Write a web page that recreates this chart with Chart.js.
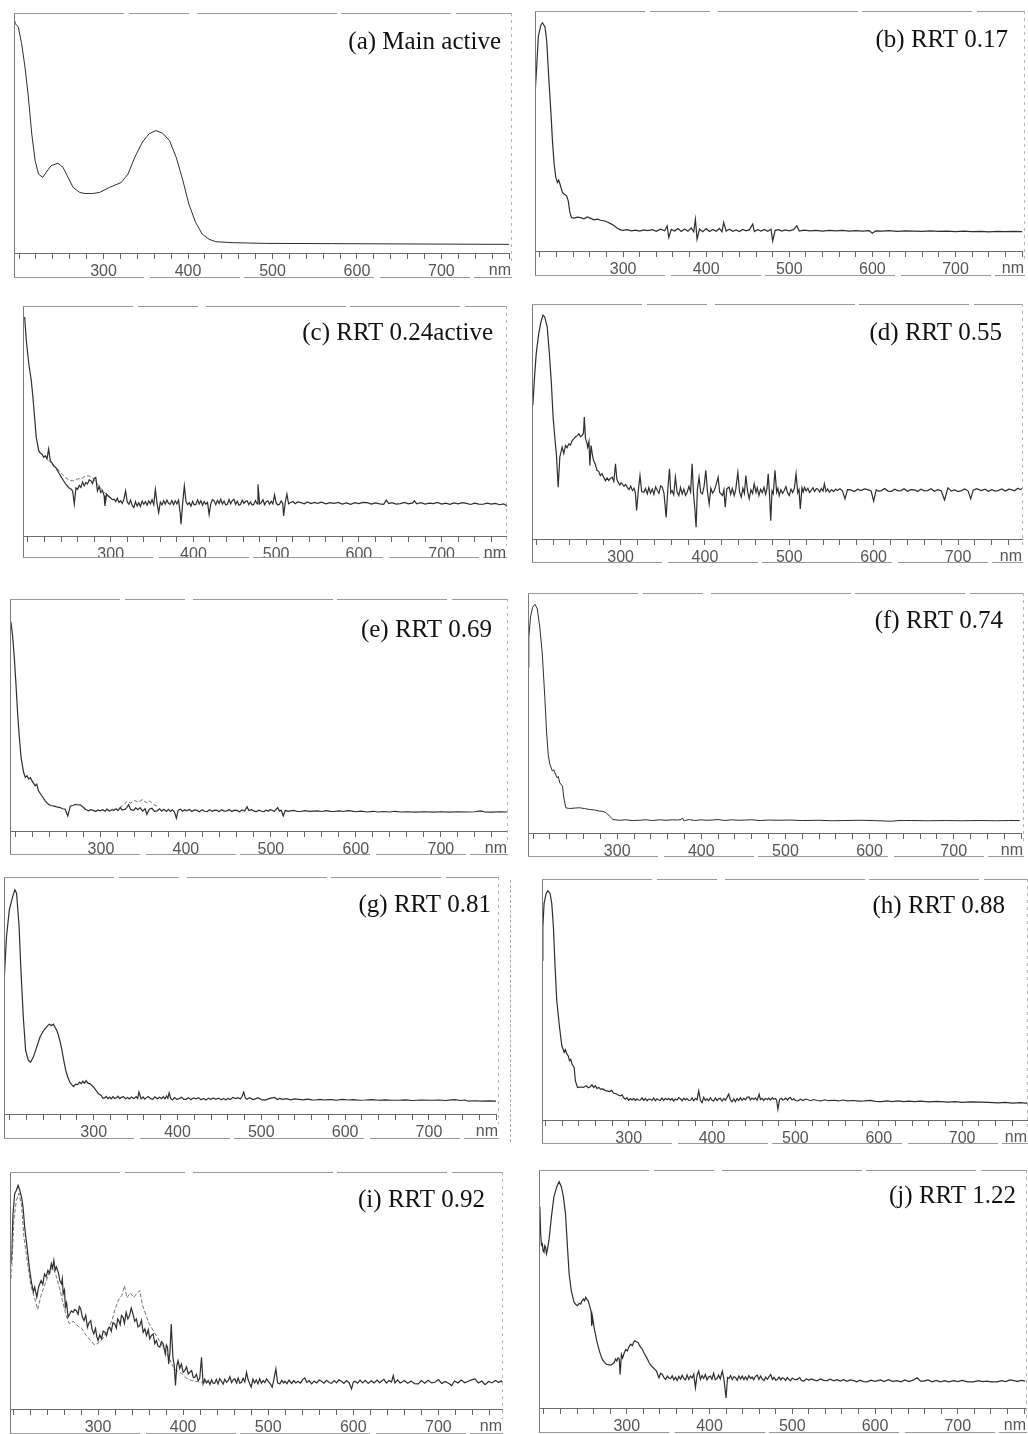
<!DOCTYPE html>
<html>
<head>
<meta charset="utf-8">
<title>UV spectra of main active and impurities</title>
<script src="https://cdn.jsdelivr.net/npm/chart.js@4.4.1/dist/chart.umd.min.js"></script>
<style>
  body { margin: 0; background: #fff; }
  #sheet { position: relative; width: 1028px; height: 1434px; overflow: hidden; }
  .panel { position: absolute; }
  .stray { position: absolute; border-left: 1px dashed #aaa; }
</style>
</head>
<body>
<div id="sheet"></div>
<script>
// wavelength ticks (nm) and which ones get a label
const tickNm = [200, 220, 240, 260, 280, 300, 320, 340, 360, 380, 400, 420, 440, 460, 480, 500,
  520, 540, 560, 580, 600, 620, 640, 660, 680, 700, 720, 740, 760, 780];
const labelNm = [300, 400, 500, 600, 700];

// spectra: [wavelength nm, relative absorbance 0-100]
const specA = [[194,96.5],[195,95.7],[199,94.3],[203,87.3],[207,77.5],[211,65.0],[215,49.7],[219,38.5],[223,32.9],[228,31.5],[232,33.6],[238,36.4],[246,37.4],[252,35.7],[258,31.5],[264,27.3],[272,25.2],[278,24.8],[287,24.8],[295,25.2],[307,27.3],[321,29.4],[329,32.9],[337,39.9],[346,46.2],[354,49.7],[362,51.0],[370,49.9],[378,46.9],[386,39.9],[394,30.1],[401,20.4],[409,12.7],[417,7.8],[425,5.7],[433,4.7],[453,4.3],[492,4.0],[571,3.9],[780,3.6]];

const specB = [[194,64.9],[196,76.7],[198,89.3],[201,94.1],[203,95.1],[206,93.4],[208,87.9],[211,69.7],[213,58.6],[215,46.0],[217,36.3],[219,30.7],[221,28.6],[222.5,29.6],[224,27.9],[227,24.4],[229,23.7],[232,23.0],[234,20.9],[236,16.0],[238,13.9],[241,13.7],[245,14.1],[249,13.9],[253,13.4],[257,14.2],[261,13.6],[265,13.0],[269,13.3],[273,12.8],[277,12.6],[281,12.1],[285,11.4],[289,10.6],[293,9.5],[297,8.8],[300,8.6],[305,8.9],[310,8.4],[315,8.7],[320,8.3],[325,8.8],[330,8.5],[335,8.9],[340,8.2],[345,9.1],[350,8.4],[353,10.4],[355,5.6],[358,9.0],[362,8.3],[366,9.4],[370,8.1],[374,9.2],[378,8.2],[382,9.6],[385,8.0],[387,13.2],[389,4.9],[392,9.1],[396,8.0],[400,9.3],[404,8.1],[408,9.0],[412,8.2],[416,9.4],[419,8.0],[421,11.9],[424,8.3],[428,9.1],[432,8.2],[436,8.8],[440,8.1],[444,9.0],[448,8.4],[452,8.9],[456,11.2],[458,8.1],[462,8.9],[466,8.3],[470,9.0],[474,8.2],[478,9.1],[480,4.2],[483,8.6],[487,8.9],[491,8.3],[495,8.8],[500,8.4],[505,8.9],[509,10.5],[512,8.3],[518,8.7],[525,8.4],[532,8.6],[540,8.3],[548,8.6],[556,8.4],[564,8.6],[572,8.3],[580,8.5],[588,8.3],[596,8.5],[600,7.4],[604,8.4],[612,8.3],[620,8.5],[630,8.2],[640,8.4],[650,8.3],[660,8.2],[670,8.4],[680,8.2],[690,8.3],[700,8.1],[710,8.3],[720,8.1],[730,8.2],[740,8.0],[750,8.2],[760,8.1],[770,8.2],[780,8.1]];

const specC = [[196,95.2],[198,85.0],[201,74.9],[204,67.6],[206,60.3],[208,51.6],[210,42.9],[213,37.1],[215,36.0],[217,35.6],[219,34.2],[221,34.9],[223,33.5],[225,37.8],[227,32.7],[229,31.8],[231,30.5],[234,29.6],[237,27.6],[240,25.8],[243,24.0],[246,22.4],[249,21.1],[252,20.4],[254,19.6],[256,13.8],[258,20.9],[260,20.3],[262,22.0],[264,21.1],[266,23.5],[268,21.8],[270,23.3],[272,22.6],[274,24.4],[276,24.0],[278,22.8],[280,25.0],[282,25.4],[284,19.6],[286,21.5],[288,18.9],[290,19.8],[292,17.6],[293,13.1],[295,18.2],[297,17.4],[300,16.5],[302,15.8],[304,16.0],[306,15.0],[308,16.4],[310,14.6],[312,15.3],[314,14.2],[316,16.1],[318,19.6],[320,14.8],[322,13.8],[324,15.6],[326,13.2],[328,12.4],[330,14.9],[332,13.0],[334,14.5],[336,12.8],[338,15.2],[340,13.8],[342,15.0],[344,13.4],[346,15.3],[348,14.0],[350,15.8],[352,13.6],[354,20.3],[356,14.2],[358,10.2],[360,14.8],[362,13.5],[364,15.3],[366,13.9],[368,15.6],[370,14.1],[372,13.8],[374,15.4],[376,13.6],[378,15.3],[380,14.0],[382,15.6],[384,10.0],[385,5.1],[387,14.4],[389,21.8],[391,15.0],[393,13.6],[395,14.5],[397,13.0],[399,15.1],[401,13.5],[403,13.8],[405,15.7],[407,13.9],[409,15.3],[411,13.4],[413,15.0],[415,13.8],[417,14.6],[419,9.4],[421,14.0],[423,15.8],[425,15.3],[427,13.6],[429,15.5],[431,14.1],[433,16.0],[435,13.9],[437,15.2],[439,13.5],[441,13.8],[443,15.9],[445,14.0],[447,15.4],[449,16.0],[451,13.7],[453,15.1],[455,13.4],[457,13.8],[459,15.6],[461,14.2],[463,15.0],[465,15.3],[467,13.6],[469,14.8],[471,13.5],[473,13.8],[475,15.4],[477,14.0],[478,22.5],[480,13.9],[482,14.5],[484,15.8],[486,13.6],[488,14.9],[490,15.3],[492,13.8],[494,15.1],[496,14.0],[498,17.9],[500,14.4],[502,13.5],[504,13.8],[506,15.2],[508,14.1],[509,8.7],[511,14.6],[513,18.2],[515,14.0],[517,14.5],[520,15.0],[523,14.0],[526,14.8],[530,14.5],[534,14.0],[538,14.8],[542,14.1],[546,14.6],[550,14.2],[555,14.7],[560,14.0],[565,14.5],[570,14.2],[575,14.6],[580,13.9],[585,14.4],[590,13.8],[595,14.5],[600,14.1],[605,14.6],[610,14.5],[615,13.9],[620,14.4],[625,14.0],[630,13.8],[633,15.6],[636,14.1],[640,14.5],[645,13.9],[650,14.1],[655,14.6],[660,14.0],[665,14.4],[667,15.3],[670,14.0],[675,14.5],[680,13.9],[685,14.3],[690,14.1],[695,14.6],[700,13.9],[705,14.3],[710,13.8],[715,14.4],[720,14.0],[725,14.5],[730,14.2],[735,13.7],[740,14.3],[745,13.9],[750,13.8],[755,14.3],[760,13.9],[765,14.2],[770,13.6],[775,14.0],[779,13.1]];
const specC2 = [[225,33.0],[230,31.0],[235,29.5],[240,27.4],[245,25.5],[250,24.2],[255,24.0],[260,24.8],[265,25.0],[270,26.2],[275,26.0],[280,24.5],[285,22.0],[290,20.0],[295,18.0],[300,16.6]];

const specD = [[196,56.9],[198,69.0],[200,78.9],[203,87.5],[205.7,92.5],[208,95.3],[210,94.6],[213,90.3],[215.6,78.9],[218,66.1],[220,51.9],[222,43.4],[224,35.6],[226,22.0],[228,34.9],[230.7,39.1],[232.7,36.3],[234.7,39.8],[236.5,38.8],[238.6,40.5],[240.5,40.0],[242.6,41.9],[244.5,42.6],[246.5,43.4],[248.5,44.0],[250.5,44.8],[252.5,43.5],[254.5,44.1],[256,45.0],[257,51.9],[258.4,42.7],[260,41.0],[261,39.1],[262.5,41.5],[263.6,31.3],[265,39.8],[266.5,36.0],[268,33.4],[270,31.8],[272,29.2],[274,28.8],[276,27.0],[278,27.8],[280,26.3],[282,24.8],[284,26.0],[286,24.9],[288,25.8],[290,26.3],[292,24.5],[294,32.0],[295.5,25.6],[297,24.2],[299,23.0],[300.5,24.0],[302,23.5],[304,22.4],[306,23.2],[308,22.0],[310,21.0],[312,22.5],[314,20.6],[316,21.6],[317.5,19.8],[319,12.1],[321,20.5],[323,27.0],[325,20.2],[327.7,19.9],[329.5,21.5],[331.7,19.2],[333.5,21.9],[335.5,19.5],[337.6,21.3],[339.5,19.0],[341.5,22.2],[343.6,20.6],[345.5,19.4],[347.5,22.6],[349.5,22.0],[351.5,19.3],[354,9.2],[356,21.2],[358,29.9],[359.5,19.6],[361,20.6],[363,18.8],[365,26.3],[367,20.0],[369,18.5],[371,22.0],[373,19.2],[375,21.3],[377,18.6],[379,19.9],[381,22.4],[383,20.0],[384.8,32.0],[386.5,19.0],[388,13.0],[389.5,5.0],[391,20.8],[393,26.3],[395,19.8],[397,19.2],[399,22.5],[401,29.2],[403,20.2],[405,14.9],[407,21.6],[409,19.5],[411,20.6],[413,22.8],[415.6,26.3],[417.5,19.8],[420.8,18.5],[422.5,21.0],[424,13.5],[426,21.4],[428.7,22.0],[430.5,19.0],[432.5,21.5],[434.7,18.5],[436.5,21.0],[439,28.4],[441,20.0],[443,17.8],[445,21.6],[446.8,19.4],[448.5,27.0],[450.5,20.4],[452.5,17.1],[454.5,21.0],[456.5,19.4],[458.4,23.5],[460.5,19.8],[462,21.8],[464,18.5],[466,21.2],[468,19.7],[470,22.0],[472,19.0],[473.5,21.4],[475,27.7],[476.5,19.0],[478,7.8],[479.5,20.5],[481,19.3],[483,29.2],[485,19.9],[486.5,21.5],[488,18.5],[490,21.0],[492,19.4],[494,20.6],[496,22.3],[498,19.6],[500,18.5],[502,21.2],[504,19.8],[506,21.6],[508,27.7],[510,19.7],[511.5,21.0],[513,12.8],[515,21.8],[516.5,20.0],[518,22.0],[520,20.4],[522,21.6],[524,19.8],[525.7,20.6],[528,21.8],[530,20.2],[532,21.4],[533.7,21.3],[536,20.0],[538,21.5],[540,20.4],[541.6,23.5],[543.5,20.2],[545.5,21.3],[547.5,19.9],[550,21.0],[552.5,20.2],[555,21.2],[557,20.6],[560,21.4],[563,20.5],[566,17.1],[569,21.0],[573,20.9],[577,20.2],[581,21.2],[585,20.6],[589,21.3],[593,21.0],[597,20.4],[600,16.1],[603,21.0],[606,20.3],[609,20.6],[613,21.5],[617,20.4],[621,20.3],[625,21.2],[629,20.5],[632.7,20.6],[636,21.4],[640,20.3],[644,21.0],[648.5,20.9],[652,20.2],[656,21.2],[660,20.5],[664,20.6],[668,21.4],[672,20.3],[676,21.0],[680,20.5],[684,16.6],[688,21.8],[692,20.4],[696,20.9],[700,20.2],[704,20.6],[708,21.3],[712,20.4],[715,17.1],[718,20.8],[722,21.4],[727.7,20.6],[732,21.2],[736,20.3],[740,21.0],[744,20.4],[747.5,20.6],[752,21.3],[756,20.4],[760,21.2],[763,21.0],[767,20.5],[771,21.6],[774,21.0],[777,21.8]];

const specE = [[194,90.2],[196,84.4],[198,75.0],[200,63.5],[202,50.5],[204,40.4],[206,31.7],[209,25.3],[211,23.1],[213,23.8],[215,22.4],[217,23.0],[219,21.6],[222.6,19.5],[224.5,20.2],[226.5,17.3],[230.5,15.2],[234.4,13.0],[238.3,11.5],[241,11.0],[244,10.8],[248,10.4],[252,10.1],[255,9.6],[258,9.4],[261,6.5],[264,10.8],[267,11.0],[270,11.5],[273,11.2],[275.6,11.3],[279.6,10.1],[282,9.3],[285.5,8.7],[288,9.2],[291,8.9],[294,8.4],[296.5,9.1],[299,8.7],[302,9.2],[305,8.5],[307,9.4],[310,8.6],[313,9.2],[315,8.9],[318,9.6],[320,8.8],[322.8,10.1],[325,9.0],[328.7,9.4],[330.5,10.2],[332.6,11.3],[335,9.2],[338.5,8.9],[341,10.0],[343.5,9.2],[346,10.1],[349,8.6],[352,9.6],[354,7.2],[357,9.4],[360,9.8],[363,8.5],[366,8.7],[369,9.6],[371.5,8.6],[374,9.4],[377,8.4],[379.5,9.3],[381.7,8.4],[384,9.1],[386.5,8.2],[388.8,5.5],[391,9.0],[393.5,9.4],[396,8.5],[398.5,9.2],[401,8.7],[404,9.3],[407,8.4],[410,9.1],[413,8.9],[416,8.3],[419,9.2],[422,8.5],[425,8.4],[428,9.2],[431,8.5],[434,9.0],[436.7,8.9],[439,8.3],[442,9.2],[445,8.6],[448.5,8.7],[451,9.3],[454,8.4],[457,9.0],[460,8.9],[463,8.3],[466,9.1],[469,8.6],[472,10.4],[474,8.8],[477,9.2],[480,8.7],[483,8.4],[486,9.0],[489,8.5],[491.7,8.4],[494.5,9.0],[497,8.5],[499,9.2],[501.6,8.9],[504,8.4],[506,9.3],[508,10.1],[510,8.6],[512,9.0],[514.5,6.5],[517,8.9],[520,8.5],[523,8.7],[527,8.9],[531,8.4],[535,8.4],[540,8.8],[545,8.5],[550,8.6],[554.6,8.7],[560,8.4],[565,8.8],[570,8.5],[574,8.4],[580,8.7],[586,8.4],[590,8.8],[594,8.7],[600,8.3],[606,8.6],[613.5,8.2],[620,8.5],[626,8.2],[633,8.4],[640,8.2],[646,8.5],[653,8.2],[660,8.3],[670,8.1],[680,8.3],[692,8.1],[700,8.3],[710,8.1],[720,8.3],[731,8.2],[740,8.3],[747,8.7],[752,8.2],[760,8.1],[770,8.3],[778.6,8.2]];
const specE2 = [[322,10.0],[327,11.5],[331,12.8],[335,12.0],[339,13.2],[344,12.4],[349,13.6],[353,12.2],[357,13.0],[362,11.4],[367,10.5]];

const specF = [[193.6,69.0],[195,81.6],[197,90.0],[199.5,94.1],[202.3,95.3],[205,93.4],[208,85.8],[211,74.6],[214,56.5],[216,42.5],[218,32.8],[220,28.6],[223,25.8],[224.5,26.4],[226,25.1],[228.7,23.0],[230,23.6],[231.8,20.9],[235,19.5],[236.6,14.6],[239,10.5],[243.6,10.2],[250,10.4],[255.5,10.5],[261,10.2],[267,9.8],[273,9.6],[279,9.1],[283,9.0],[287,8.4],[291,7.0],[295,5.6],[302.8,5.3],[310,5.5],[318,5.2],[326,5.3],[334,5.5],[342,5.2],[350,5.5],[358,5.3],[366,5.5],[372,5.4],[376,5.6],[377.6,6.3],[379.5,5.0],[381.6,5.3],[386,5.6],[392,5.2],[400,5.5],[406,5.3],[413,5.4],[420,5.6],[428,5.2],[436,5.5],[444,5.3],[452.5,5.4],[460,5.5],[470,5.2],[480,5.4],[492,5.3],[505,5.4],[520,5.2],[540,5.3],[555,5.1],[570.7,5.2],[590,5.3],[610,5.1],[626,4.9],[635,5.2],[649.6,5.2],[670,5.1],[690,5.2],[710,5.1],[730,5.2],[750,5.1],[765,5.2],[778.4,5.2]];

const specG = [[193,55.1],[196,74.9],[199.4,86.2],[203.4,91.8],[206,94.6],[208,93.2],[211,79.1],[213,62.1],[216,41.0],[218.8,26.8],[222,22.6],[224.8,21.9],[228,24.0],[232,28.2],[236,32.5],[239,34.5],[242,36.0],[245,37.2],[247,37.9],[249.5,37.3],[252,37.9],[254,36.5],[256,35.3],[258,33.2],[260,30.4],[261.8,27.6],[263.6,24.0],[265,21.4],[266.7,18.4],[269,15.6],[271.5,13.4],[274,12.3],[276,11.6],[278.5,12.6],[281,12.4],[283,13.4],[285,12.8],[287,13.8],[289,13.0],[291,14.1],[293,13.0],[295.5,12.7],[298,12.0],[300.5,11.0],[303,9.9],[306,8.4],[309,7.8],[311,6.6],[313,6.8],[315,7.4],[317,6.5],[319,7.1],[321,6.4],[323,7.3],[325,6.6],[327,6.8],[329,7.5],[331,6.5],[333,7.0],[335.6,7.3],[338,6.4],[340.5,7.0],[342.8,6.4],[345,7.2],[348,6.5],[350.7,7.3],[352.5,6.6],[354,9.2],[356.6,6.4],[359,7.2],[360.8,6.3],[362.6,6.8],[365,7.4],[368,6.5],[370.5,6.2],[373,7.2],[376,6.4],[378.4,7.1],[381,6.5],[383,7.3],[385,6.4],[387,7.6],[388.5,6.6],[390,8.9],[392,6.5],[394,5.9],[396.5,6.9],[399,6.2],[402,6.5],[405,7.1],[407.5,6.2],[410,6.2],[413,6.9],[416,6.0],[419,6.8],[422,6.4],[425,6.9],[428,6.0],[431,6.6],[434,5.9],[437,6.7],[440,6.1],[442.5,6.8],[445.7,6.2],[449,6.7],[452,6.0],[455,6.6],[457.6,5.9],[460,6.6],[463,6.1],[466,7.0],[469.5,6.5],[472,6.9],[475,6.3],[477,7.4],[479,9.2],[481,6.7],[483,6.2],[486,6.9],[490,6.1],[493,6.4],[496,6.9],[500,6.1],[505,5.9],[509,6.5],[513,6.8],[516,7.0],[519,6.1],[522,6.6],[525,6.2],[530,6.5],[535,6.0],[540,6.4],[544.8,6.2],[550,6.0],[555,6.3],[560,6.0],[564.6,5.9],[570,6.2],[575,5.9],[580,6.1],[584,6.1],[590,5.8],[596,6.2],[604,5.9],[610,6.1],[617,5.8],[624,5.9],[632,6.1],[640,5.8],[648,6.0],[655,5.8],[663.6,5.8],[672,6.0],[680,5.7],[690,5.9],[703,5.8],[712,5.9],[720,5.7],[727,6.0],[731,6.1],[737,5.7],[743,5.9],[747,5.4],[755,5.6],[763,5.4],[772,5.5],[780,5.4]];

const specH = [[195.7,66.3],[197,80.1],[198.5,89.9],[201,94.0],[203,95.1],[205.7,94.0],[207.7,89.9],[209.7,80.1],[211.7,63.5],[213.7,49.6],[217,38.5],[219.8,30.8],[222.6,28.1],[224,29.2],[225.8,27.4],[227.5,26.6],[229,24.6],[230.5,25.1],[232,23.2],[234.6,21.8],[236,16.3],[238.6,13.5],[242,13.7],[245.8,13.5],[249,14.2],[251.5,13.4],[253.9,13.8],[256,14.6],[258,13.5],[260,14.2],[262,13.0],[264,13.6],[266,12.8],[269,12.9],[272,12.2],[274,12.1],[277,11.8],[279.5,12.3],[282,11.1],[285,10.9],[288,10.3],[290,10.0],[292,10.4],[294,9.2],[296,8.6],[298,9.3],[300,8.2],[302,8.9],[304,8.3],[306,9.0],[308,8.1],[310,8.8],[312,8.2],[314,8.3],[316,9.1],[318,8.2],[320,8.9],[322,8.0],[324,8.7],[326,8.6],[328,8.1],[330,9.2],[332,8.0],[334,8.8],[336,8.3],[338,8.2],[340,9.1],[342,8.1],[344,9.0],[346,8.4],[348,9.0],[350,8.2],[352,8.9],[354,7.9],[356,8.7],[358,8.3],[360,9.3],[362,8.8],[364,8.0],[366,9.0],[368,8.3],[370,8.9],[372,8.1],[374,8.2],[376,9.2],[378,8.0],[380,9.0],[382,8.4],[384,12.1],[386,8.2],[388,7.2],[390,9.4],[392,8.1],[394,8.8],[396,8.0],[398,9.3],[400,8.2],[402,7.9],[404,9.2],[406,8.1],[408,8.8],[410,9.0],[412,7.8],[414,8.9],[416,8.2],[418,9.4],[420,10.7],[422,8.3],[424,7.6],[426,8.8],[428,7.6],[430,8.9],[432,8.1],[434,9.3],[436,8.2],[438,9.0],[440,8.4],[442,9.4],[444.4,9.6],[446,8.3],[448,9.1],[450,8.5],[452,9.2],[454,8.2],[456.5,10.7],[458,8.4],[460,9.0],[462,8.1],[464,8.9],[466.5,8.5],[468,9.1],[470,8.3],[472.5,9.3],[474,8.6],[476,8.9],[477.5,8.2],[479,4.4],[481,8.5],[483,9.0],[485,8.3],[486.6,8.5],[488.5,9.1],[490.5,8.2],[492,9.0],[494,9.3],[496,8.3],[498,8.8],[500,8.1],[503,7.9],[506,8.6],[509,8.1],[512,8.7],[514.6,8.5],[518,8.0],[522,8.5],[526,8.1],[530.7,7.9],[535,8.4],[540,8.0],[546.7,8.2],[552,7.9],[557,8.3],[562.8,7.9],[570,8.1],[576,7.8],[582.8,7.9],[590,8.1],[596,7.7],[603,7.6],[610,7.9],[616,7.6],[623,7.9],[630,7.6],[636,7.8],[643,7.6],[650,7.8],[660,7.5],[670,7.7],[683,7.4],[692,7.6],[700,7.3],[710,7.5],[723,7.4],[732,7.3],[743,7.1],[752,7.3],[760,7.0],[770,7.2],[778.6,6.9]];

const specI = [[198,61.3],[200,82.4],[202,90.8],[204,92.3],[206,94.4],[208,92.3],[210,89.4],[211.8,85.2],[213.7,76.8],[217,66.9],[219.6,58.5],[222,52.8],[224,49.5],[225.5,51.4],[228,47.2],[230,51.4],[233,54.2],[235,52.6],[237,57.0],[239,55.8],[241,58.5],[243,57.2],[245,61.3],[246.5,59.5],[248,62.7],[249.5,58.6],[251,59.9],[253.7,57.0],[255,54.2],[257,52.8],[258,55.0],[259,48.6],[260.5,50.2],[261.6,43.0],[263,44.8],[264.7,38.7],[266.7,40.1],[268.5,41.4],[270.6,40.8],[272.5,42.0],[274.5,41.5],[276.5,40.0],[278,43.2],[279.6,42.3],[281.5,38.8],[283.5,37.3],[285.5,39.6],[287.5,34.5],[289.5,36.5],[291.4,37.3],[293,33.6],[295,31.7],[297,34.0],[298.5,30.5],[300,28.9],[302,31.2],[304,29.6],[306,32.8],[308,32.4],[310,30.9],[312,34.0],[313.7,34.5],[315.5,32.8],[317.5,36.4],[319.6,35.9],[321.5,34.1],[323,38.0],[324.3,37.3],[326,35.6],[327.5,39.5],[329.4,38.7],[331,36.2],[333,40.8],[335,38.0],[337,39.4],[339,42.6],[341,40.1],[343,37.0],[345,38.0],[347,34.6],[349,35.2],[351,37.5],[353,32.4],[355,33.8],[357,31.0],[359,33.5],[360.8,29.6],[362.7,31.0],[364.7,31.7],[366.7,27.6],[368.6,28.9],[370.5,26.5],[372.5,26.1],[374.5,28.4],[376.5,27.5],[378,25.0],[379,23.2],[380.3,27.0],[381.6,26.1],[383,19.0],[384.5,24.0],[386,35.9],[388,21.8],[389.5,18.5],[391,9.9],[392.5,18.2],[394,20.4],[396,17.1],[398,19.0],[400,15.5],[402,16.2],[404,17.8],[406,14.8],[408,15.6],[410,16.2],[412,13.2],[413.7,13.4],[415.5,14.6],[417.6,12.0],[419.5,13.0],[421.6,21.8],[423.5,10.6],[425.5,12.5],[427.5,11.0],[429.4,12.0],[431.5,10.4],[433.5,12.3],[435,11.0],[437,10.8],[439,12.5],[441,10.6],[443,12.8],[445,11.7],[447,10.5],[449,12.6],[451,11.3],[453,12.0],[455,13.6],[457,11.2],[459,12.4],[460.8,12.7],[462.8,11.0],[464.7,13.1],[466.7,10.9],[468.6,11.3],[470.5,13.0],[472.5,11.4],[474.5,15.5],[476.5,12.2],[478.5,10.4],[480,9.2],[482,12.6],[484,11.0],[486,12.3],[488,10.6],[490,12.8],[492,10.8],[494,12.0],[496,11.1],[498,12.7],[500,11.7],[502.5,10.6],[504.7,9.2],[506.5,12.2],[509,16.9],[511,11.0],[513.7,10.6],[516,12.1],[518,11.0],[519.6,11.7],[522,10.7],[524.5,12.2],[527.5,10.8],[530,12.0],[532.5,11.0],[535,11.7],[538,10.9],[540.5,12.4],[543,13.1],[545.5,11.2],[548,12.0],[551,10.6],[554,11.8],[557,11.0],[560,12.2],[562.7,11.7],[565.5,10.9],[568.5,12.1],[571.5,11.2],[574.5,10.8],[577.5,12.0],[580.5,11.0],[583,12.3],[586,11.7],[589,10.8],[592,12.0],[595,11.1],[598,8.5],[600,11.3],[602,11.7],[605,10.9],[608,12.2],[611,11.0],[614,12.1],[617.6,10.8],[621,11.9],[624.5,11.0],[628,12.2],[631,11.1],[633,11.7],[636,12.5],[639,10.9],[642,12.0],[645,11.4],[647,14.1],[649,11.0],[652,12.3],[655,11.0],[657,11.3],[660,12.0],[664,10.9],[668,11.8],[672,10.7],[676.5,10.6],[680,12.0],[684,10.9],[688,12.1],[692,11.0],[696,11.3],[700,12.4],[704,10.8],[708,11.6],[712,10.9],[715.7,9.9],[719,11.8],[723,11.0],[727,12.2],[731,11.1],[735,11.7],[739,12.3],[743,12.7],[747,11.0],[751,11.8],[755,10.3],[759,11.6],[763,11.0],[767,12.0],[771,11.2],[774,11.9],[776,10.8]];
const specI2 = [[198,55.0],[201,80.0],[204,88.0],[207,91.0],[210,86.0],[213,72.0],[217,62.0],[221,52.0],[226,46.0],[229,42.0],[233,48.0],[238,53.0],[243,58.0],[247,60.0],[250,57.0],[254,52.0],[258,46.0],[262,40.0],[266,36.0],[271,37.0],[276,35.0],[281,34.0],[286,31.0],[291,29.0],[296,27.0],[301,28.0],[306,30.0],[311,33.0],[316,37.0],[320,42.0],[324,46.0],[328,48.0],[331,52.0],[334,47.0],[338,49.0],[342,47.0],[346,49.0],[349,50.0],[352,44.0],[356,40.0],[360,36.0],[365,33.0],[370,30.0],[375,27.0],[380,24.0],[384,21.0],[388,18.0],[393,16.0],[398,15.0],[404,13.0],[410,12.0],[418,11.5],[426,11.0]];

const specJ = [[195,84.5],[196,73.2],[197,68.5],[198,69.0],[199,66.0],[200,65.5],[201,68.2],[202,67.6],[203,64.8],[204,66.2],[206,70.4],[209,80.3],[212,88.7],[215.5,93.0],[218.3,95.1],[221,93.0],[223.5,88.7],[226,81.7],[228.4,67.6],[230.4,56.3],[233,49.3],[236.4,44.4],[238.5,43.5],[240.4,43.0],[242.5,43.9],[244.5,43.7],[246,45.0],[247.7,45.8],[249,45.0],[250.5,46.5],[252,45.5],[253.3,45.1],[255.7,42.3],[257,40.5],[257.7,34.5],[258.8,38.0],[260.6,33.8],[262.2,31.0],[263.8,28.2],[265.4,26.0],[267,23.9],[268.8,22.0],[270.6,20.4],[272.6,19.4],[274.6,18.6],[277.5,18.2],[280.7,18.0],[282.7,18.5],[284.7,19.0],[286.5,20.6],[288,19.8],[289.5,21.1],[291,20.5],[292,14.1],[293.6,22.5],[295,21.0],[296.8,23.0],[298.8,24.6],[300.8,24.0],[302.8,25.8],[304.8,26.8],[306.8,26.2],[308.2,27.6],[309.7,28.2],[311.7,27.8],[313.7,27.5],[315.5,26.2],[317,25.5],[319,24.6],[321,23.0],[323,21.8],[325,20.6],[327,19.0],[329.5,17.8],[332,16.9],[334,16.2],[336,15.5],[337.5,14.0],[339,12.7],[341,14.6],[343,14.1],[345,12.8],[347,12.0],[349,13.4],[351,12.6],[353,12.4],[355,13.5],[357,11.8],[359,12.9],[361,11.5],[363,13.3],[365,12.1],[367,13.8],[369,12.4],[371,11.9],[373,13.9],[375,12.0],[377,13.4],[379,12.6],[381,14.2],[383,8.5],[385,13.8],[387,15.5],[389,12.0],[391,13.6],[393,12.4],[395,14.1],[397,11.8],[399,13.0],[401,13.4],[403,12.1],[405,14.6],[407,11.9],[409,12.4],[411,13.8],[413,12.2],[415.5,15.5],[417.5,12.0],[420,4.2],[421.8,12.8],[423.5,12.4],[425.5,13.6],[427.5,11.9],[429.5,13.2],[431.6,12.7],[433.5,11.6],[435.5,13.5],[437.5,12.2],[439.5,13.4],[441.6,12.0],[443.5,13.1],[445.5,11.8],[447.5,13.6],[449.7,12.4],[451.5,13.0],[453.5,11.9],[455.5,13.3],[457.7,13.8],[459.7,12.0],[461.7,13.4],[463.7,12.2],[465.8,11.5],[467.8,13.0],[470,12.1],[472,13.2],[474,14.1],[476,12.0],[478,12.9],[480,11.7],[482,12.0],[484,13.0],[486,11.8],[488,12.7],[490,12.4],[492,11.6],[494,12.8],[496,12.0],[498,11.5],[500,12.6],[503,11.9],[506,12.0],[509,12.8],[511,11.6],[514,11.3],[517,12.3],[520,11.6],[523,12.2],[526,11.8],[530,11.4],[534,12.2],[538,11.6],[542,11.5],[546,12.1],[550,11.4],[554,11.9],[558,11.3],[562,11.9],[566,11.2],[570,11.8],[574.4,11.5],[578,11.0],[582,11.7],[586,11.1],[590.5,11.0],[595,11.7],[600,11.2],[606.6,11.8],[611,11.1],[616,11.9],[621,11.2],[626.8,11.5],[631,11.0],[636,11.8],[641,11.1],[646,11.7],[651,12.7],[655,11.3],[659,11.3],[664,11.8],[669,11.0],[674,11.6],[679,11.0],[684,11.5],[689,11.0],[695,11.5],[700,11.1],[705,11.6],[712,11.0],[719,11.0],[725,11.5],[730,11.1],[735,11.3],[740,11.0],[747.5,11.0],[753,11.5],[758,11.1],[763,11.8],[767.6,11.5],[772,11.2],[777,11.6],[781.7,11.3]];

// panel layout: frame box [left, top, width, height], axis strip height, x range,
// title inset [from right, baseline from top], trace width
const panels = [
  { title: '(a) Main active',     traces: [specA],         box: [14, 13, 498, 265],   axisH: 25, range: [194, 780], inset: [11, 36], lw: 1 },
  { title: '(b) RRT 0.17',        traces: [specB],         box: [535, 11, 490, 265],  axisH: 25, range: [194, 780], inset: [17, 36], lw: 1.2 },
  { title: '(c) RRT 0.24active',  traces: [specC, specC2], box: [23, 306, 484, 252],  axisH: 22, range: [194, 779], inset: [14, 34], lw: 1.2 },
  { title: '(d) RRT 0.55',        traces: [specD],         box: [532, 304, 491, 259], axisH: 24, range: [195, 777], inset: [21, 36], lw: 1.2 },
  { title: '(e) RRT 0.69',        traces: [specE, specE2], box: [10, 599, 498, 256],  axisH: 24, range: [193, 779], inset: [16, 38], lw: 1.2 },
  { title: '(f) RRT 0.74',        traces: [specF],         box: [528, 593, 496, 264], axisH: 24, range: [194, 780], inset: [21, 35], lw: 1 },
  { title: '(g) RRT 0.81',        traces: [specG],         box: [4, 877, 495, 262],   axisH: 25, range: [193, 780], inset: [8, 35],  lw: 1.2 },
  { title: '(h) RRT 0.88',        traces: [specH],         box: [542, 879, 486, 265], axisH: 24, range: [196, 779], inset: [23, 34], lw: 1.2 },
  { title: '(i) RRT 0.92',        traces: [specI, specI2], box: [10, 1172, 493, 262], axisH: 25, range: [198, 776], inset: [18, 35], lw: 1.2 },
  { title: '(j) RRT 1.22',        traces: [specJ],         box: [539, 1170, 488, 263], axisH: 25, range: [194, 782], inset: [11, 33], lw: 1.2 }
];

const LINE = '#2e2e2e';
const AXIS = '#555';
const SANS = '"Liberation Sans", Arial, sans-serif';

function stroke(ctx, x1, y1, x2, y2) {
  ctx.beginPath();
  ctx.moveTo(x1, y1);
  ctx.lineTo(x2, y2);
  ctx.stroke();
}

// scanned frame, "nm" unit and panel caption
const framePlugin = {
  id: 'frame',
  afterDraw(chart, args, opts) {
    const { ctx, chartArea, width, height } = chart;
    ctx.save();
    ctx.lineWidth = 1;
    ctx.strokeStyle = '#7a7a7a';
    stroke(ctx, 0.5, 0, 0.5, height);
    ctx.strokeStyle = '#9a9a9a';
    ctx.setLineDash([110, 5, 60, 8, 140, 4]);
    stroke(ctx, 0, 0.5, width, 0.5);
    ctx.setLineDash([130, 6, 90, 4]);
    stroke(ctx, 0, height - 0.5, width, height - 0.5);
    ctx.strokeStyle = '#b5b5b5';
    ctx.setLineDash([3, 4]);
    stroke(ctx, width - 0.5, 0, width - 0.5, chartArea.bottom + 10);
    ctx.setLineDash([]);

    ctx.fillStyle = AXIS;
    ctx.font = '16px ' + SANS;
    ctx.textAlign = 'right';
    ctx.textBaseline = 'top';
    ctx.fillText('nm', width - 1, chartArea.bottom + 10);

    ctx.fillStyle = '#111';
    ctx.font = '25px "Liberation Serif", "Times New Roman", serif';
    ctx.textBaseline = 'alphabetic';
    ctx.fillText(opts.title, width - opts.inset[0], opts.inset[1]);
    ctx.restore();
  }
};

const sheet = document.getElementById('sheet');

panels.forEach(p => {
  const [left, top, w, h] = p.box;
  const wrap = document.createElement('div');
  wrap.className = 'panel';
  wrap.style.left = left + 'px';
  wrap.style.top = top + 'px';
  const canvas = document.createElement('canvas');
  canvas.width = w;
  canvas.height = h;
  canvas.style.width = w + 'px';
  canvas.style.height = h + 'px';
  wrap.appendChild(canvas);
  sheet.appendChild(wrap);

  new Chart(canvas, {
    type: 'line',
    data: {
      datasets: p.traces.map((t, i) => ({
        data: t.map(([x, y]) => ({ x, y })),
        borderColor: i === 0 ? LINE : '#666',
        borderWidth: i === 0 ? p.lw : 0.9,
        borderDash: i === 0 ? [] : [4, 2],
        pointRadius: 0,
        tension: 0,
        fill: false
      }))
    },
    options: {
      responsive: false,
      devicePixelRatio: 1,
      animation: false,
      layout: { padding: 0, autoPadding: false },
      plugins: {
        legend: { display: false },
        tooltip: { enabled: false },
        frame: { title: p.title, inset: p.inset }
      },
      scales: {
        x: {
          type: 'linear',
          min: p.range[0],
          max: p.range[1],
          afterBuildTicks: scale => {
            scale.ticks = tickNm.filter(v => v >= p.range[0] && v <= p.range[1]).map(v => ({ value: v }));
          },
          afterFit: scale => { scale.height = p.axisH; },
          ticks: {
            autoSkip: false,
            maxRotation: 0,
            padding: 3,
            color: AXIS,
            font: { family: SANS, size: 16 },
            callback: v => labelNm.includes(v) ? String(v) : ''
          },
          grid: { drawOnChartArea: false, drawTicks: true, tickLength: 6, color: '#666', lineWidth: 1 },
          border: { display: true, color: '#6a6a6a', width: 1 }
        },
        y: { display: false, min: 0, max: 100 }
      }
    },
    plugins: [framePlugin]
  });
});

// stray scan edge to the right of panel (g)
const edge = document.createElement('div');
edge.className = 'stray';
edge.style.left = '510px';
edge.style.top = '880px';
edge.style.height = '262px';
sheet.appendChild(edge);
</script>
</body>
</html>
